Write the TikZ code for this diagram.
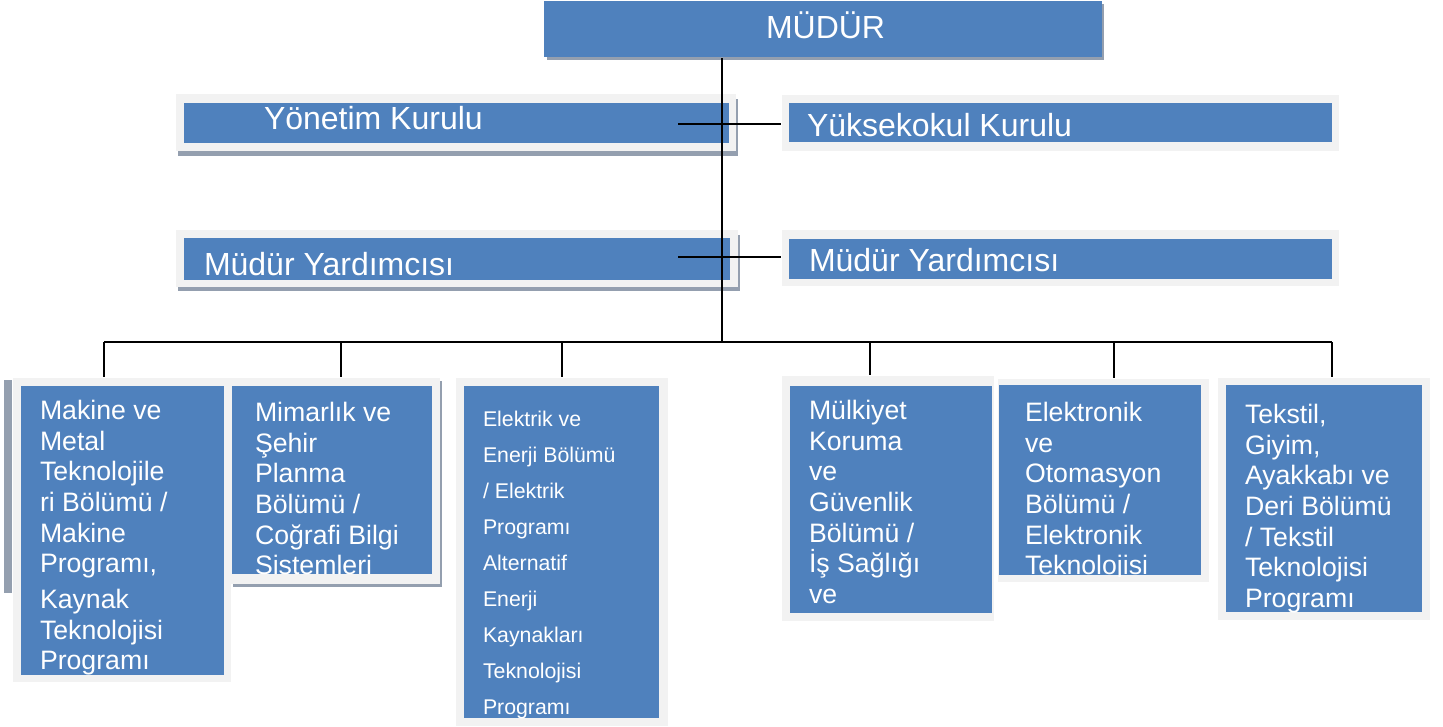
\documentclass[tikz,border=0pt]{standalone}
\usepackage{fontspec}
\setmainfont{Liberation Sans}
\definecolor{unitblue}{HTML}{4F81BD}
\definecolor{framegray}{HTML}{F2F2F2}
\definecolor{shadowgray}{HTML}{949FAF}
\def\busy{342}
\begin{document}
\begin{tikzpicture}[x=1pt,y=-1pt,line width=2pt]
    \tikzstyle{frame}=[fill=framegray,anchor=north west,inner sep=0pt]
    \tikzstyle{unit}=[fill=unitblue,anchor=north west,inner sep=0pt]
    \tikzstyle{shadow}=[fill=shadowgray]
    \tikzstyle{head text}=[text=white,anchor=base west,inner sep=0pt,font=\fontsize{32}{38}\selectfont]
    \tikzstyle{unit text}=[text=white,anchor=north west,inner sep=0pt,align=left,font=\fontsize{26.67}{30.7}\selectfont]
    \tikzstyle{link}=[draw=black,line width=2pt]

    \fill[white] (0,0) rectangle (1443,726);
    \useasboundingbox (0,0) rectangle (1443,726);

    % Draw the shadows behind the frames
    \fill[shadow] (547,4) rectangle (1104,60);
    \fill[shadow] (178,99) rectangle (738,156);
    \fill[shadow] (178,235) rectangle (740,291);
    \fill[shadow] (4,380) rectangle (12,593);
    \fill[shadow] (233,381) rectangle (442,587);

    % Draw the frames and the blue boxes
    \foreach \name / \fx / \fy / \fw / \fh / \bx / \by / \bw / \bh in {
        yonetim/175/93/560/57/183/102/545/40,
        yuksek/781/94/557/56/788/102/543/39,
        myleft/175/229/562/57/183/237/546/42,
        myright/781/229/557/56/788/238/543/40,
        makine/12/377/218/304/20/385/203/289,
        mimar/230/377/209/206/231/385/200/188,
        elektrik/455/377/212/348/463/385/195/332,
        mulkiyet/781/375/212/245/789/385/202/227,
        elektronik/997/378/211/203/998/384/202/190,
        tekstil/1217/377/212/242/1225/384/196/227}
    {
        \node[frame,minimum width=\fw pt,minimum height=\fh pt] (\name-f) at (\fx,\fy) {};
        \node[unit,minimum width=\bw pt,minimum height=\bh pt] (\name) at (\bx,\by) {};
    }
    \node[unit,minimum width=558pt,minimum height=56pt] (mudur) at (543,0) {};

    % Texts of the upper boxes
    \node[head text] (mudur-t) at (765,38) {MÜDÜR};
    \node[head text] (yonetim-t) at (263,129) {Yönetim Kurulu};
    \node[head text] (yuksek-t) at (806,136) {Yüksekokul Kurulu};
    \node[head text] (myleft-t) at (203,275) {Müdür Yardımcısı};
    \node[head text] (myright-t) at (808,271) {Müdür Yardımcısı};

    % Texts of the departments, cut at the box edges
    \begin{scope}
        \clip (makine.north west) rectangle (makine.south east);
        \node[unit text] (makine-t) at (39,399) {Makine ve\\Metal\\Teknolojile\\ri Bölümü /\\Makine\\Programı,\\[5pt]Kaynak\\Teknolojisi\\Programı};
    \end{scope}
    \begin{scope}
        \clip (mimar.north west) rectangle (mimar.south east);
        \node[unit text] (mimar-t) at (254,401) {Mimarlık ve\\Şehir\\Planma\\Bölümü /\\Coğrafi Bilgi\\Sistemleri};
    \end{scope}
    \begin{scope}
        \clip (elektrik.north west) rectangle (elektrik.south east);
        \node[unit text,font=\fontsize{21.3}{36}\selectfont] (elektrik-t) at (482,410.5) {Elektrik ve\\Enerji Bölümü\\/ Elektrik\\Programı\\Alternatif\\Enerji\\Kaynakları\\Teknolojisi\\Programı};
    \end{scope}
    \begin{scope}
        \clip (mulkiyet.north west) rectangle (mulkiyet.south east);
        \node[unit text] (mulkiyet-t) at (808,399) {Mülkiyet\\Koruma\\ve\\Güvenlik\\Bölümü /\\İş Sağlığı\\ve};
    \end{scope}
    \begin{scope}
        \clip (elektronik.north west) rectangle (elektronik.south east);
        \node[unit text] (elektronik-t) at (1024,401) {Elektronik\\ve\\Otomasyon\\Bölümü /\\Elektronik\\Teknolojisi};
    \end{scope}
    \begin{scope}
        \clip (tekstil.north west) rectangle (tekstil.south east);
        \node[unit text] (tekstil-t) at (1244,403) {Tekstil,\\Giyim,\\Ayakkabı ve\\Deri Bölümü\\/ Tekstil\\Teknolojisi\\Programı};
    \end{scope}

    % Connect the director with the boards and the assistants
    \coordinate (trunk) at (722,\busy);
    \coordinate (yk-tick) at (678,124);
    \coordinate (my-tick) at (678,257);
    \draw[link] (mudur.south -| trunk) -- (trunk);
    \draw[link] (yk-tick) -- (yk-tick -| yuksek-f.west);
    \draw[link] (my-tick) -- (my-tick -| myright-f.west);

    % Connect the bus with every department
    \coordinate (bus-l) at (104,\busy);
    \coordinate (bus-r) at (1332,\busy);
    \draw[link] (bus-l) -- (bus-r);
    \foreach \name / \x in {makine/104,mimar/341,elektrik/562,mulkiyet/870,elektronik/1114,tekstil/1332}
        \draw[link] (\x,\busy) -- (\x,\busy |- \name-f.north);
\end{tikzpicture}
\end{document}
